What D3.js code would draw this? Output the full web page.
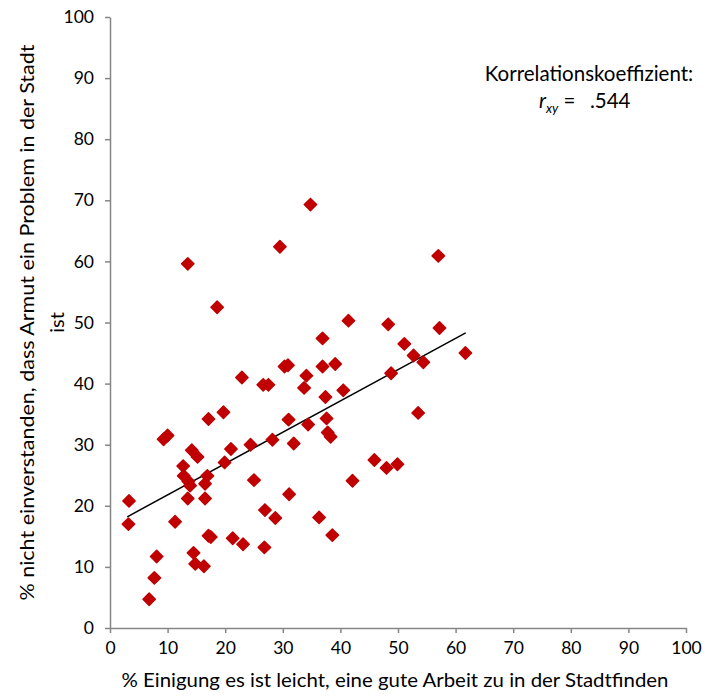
<!DOCTYPE html>
<meta charset="utf-8">
<style>
body { margin: 0; background: #fff; }
text { font-family: Lato, "Open Sans", sans-serif; fill: #000; }
.axis path, .axis line { stroke: #868686; stroke-width: 1.5; }
.axis text { font-size: 17.5px; }
.dot { fill: #c00000; stroke: #c00000; stroke-width: 1.5; stroke-linejoin: round; }
.trend { fill: none; stroke: #000; stroke-width: 1.5; }
</style>
<body></body>
<script src="https://d3js.org/d3.v7.min.js"></script>
<script>

// % agreeing it is easy to find a good job in the city
var einigung = [34.8, 29.5, 13.5, 57.0, 18.6, 41.4, 48.3, 57.2, 36.9, 51.1,
  52.7, 54.4, 61.7, 30.3, 30.9, 36.9, 39.1, 34.1, 22.9, 26.6,
  27.5, 33.7, 40.5, 48.8, 37.4, 19.7, 17.1, 31.0, 37.6, 34.4,
  37.8, 38.3, 53.5, 10.0, 9.3, 21.0, 24.4, 28.2, 31.9, 14.2,
  15.2, 12.7, 19.9, 45.9, 48.0, 49.9, 12.8, 13.6, 13.9, 16.9,
  16.5, 25.0, 42.1, 31.1, 3.3, 13.5, 16.5, 3.2, 11.3, 26.9,
  28.7, 36.3, 38.6, 17.1, 17.5, 21.3, 23.1, 26.8, 8.1, 14.5,
  14.8, 16.3, 7.7, 6.8];

// % disagreeing that poverty is a problem in the city
var nichtEinverstanden = [69.3, 62.4, 59.6, 60.9, 52.5, 50.3, 49.7, 49.1, 47.4, 46.5,
  44.6, 43.5, 45.0, 42.8, 43.0, 42.8, 43.2, 41.3, 41.0, 39.8,
  39.8, 39.3, 38.9, 41.7, 37.8, 35.3, 34.2, 34.1, 34.3, 33.3,
  32.0, 31.3, 35.2, 31.5, 30.9, 29.3, 30.0, 30.8, 30.2, 29.1,
  28.0, 26.5, 27.1, 27.5, 26.2, 26.8, 24.9, 24.0, 23.3, 24.9,
  23.6, 24.2, 24.1, 21.9, 20.8, 21.2, 21.2, 17.0, 17.4, 19.3,
  18.0, 18.1, 15.2, 15.1, 14.9, 14.7, 13.7, 13.2, 11.7, 12.3,
  10.5, 10.1, 8.2, 4.7];

// linear trendline end points
var trendX = [3.0, 61.75];
var trendY = [18.2, 48.3];

var ticks = [0, 10, 20, 30, 40, 50, 60, 70, 80, 90, 100];

var margin = {top: 17, right: 22, bottom: 68, left: 110},
    width = 708 - margin.left - margin.right,
    height = 696 - margin.top - margin.bottom;

var svg = d3.select("body").append("svg")
    .attr("width", 708)
    .attr("height", 696)
  .append("g")
    .attr("transform", "translate(" + margin.left + "," + margin.top + ")");

var x = d3.scaleLinear().domain([0, 100]).range([0, width]);
var y = d3.scaleLinear().domain([0, 100]).range([height, 0]);

svg.append("g")
    .attr("class", "axis")
    .attr("transform", "translate(0," + height + ")")
    .call(d3.axisBottom(x).tickValues(ticks).tickSize(5).tickSizeOuter(0).tickPadding(9))
    .selectAll("text").attr("dy", "0.71em");

svg.append("g")
    .attr("class", "axis")
    .call(d3.axisLeft(y).tickValues(ticks).tickSize(5).tickSizeOuter(0).tickPadding(11));

// trendline
var line = d3.line()
    .x(function(d) { return x(d[0]); })
    .y(function(d) { return y(d[1]); });

svg.append("path")
    .datum(d3.zip(trendX, trendY))
    .attr("class", "trend")
    .attr("d", line);

// diamonds
var diamond = d3.symbol().type(d3.symbolSquare).size(76);

svg.selectAll(".dot")
    .data(d3.zip(einigung, nichtEinverstanden))
  .enter().append("path")
    .attr("class", "dot")
    .attr("d", diamond)
    .attr("transform", function(d) {
      return "translate(" + x(d[0]) + "," + y(d[1]) + ") rotate(45)";
    });

// axis titles
svg.append("text")
    .attr("x", width / 2 - 3)
    .attr("y", height + 59)
    .attr("text-anchor", "middle")
    .attr("textLength", 547)
    .attr("lengthAdjust", "spacingAndGlyphs")
    .style("font-size", "20px")
    .text("% Einigung es ist leicht, eine gute Arbeit zu in der Stadtfinden");

var yTitle = svg.append("text")
    .attr("transform", "translate(-76," + (height / 2) + ") rotate(-90)")
    .attr("text-anchor", "middle")
    .style("font-size", "20px");
yTitle.append("tspan").attr("x", 0).attr("dy", 0)
    .attr("textLength", 556)
    .attr("lengthAdjust", "spacingAndGlyphs")
    .text("% nicht einverstanden, dass Armut ein Problem in der Stadt");
yTitle.append("tspan").attr("x", 0).attr("dy", 30).text("ist");

// correlation note
svg.append("text")
    .attr("x", 479)
    .attr("y", 64)
    .attr("text-anchor", "middle")
    .style("font-size", "20.5px")
    .text("Korrelationskoeffizient:");

var r = svg.append("text")
    .attr("x", 429)
    .attr("y", 91)
    .style("font-size", "20.5px");
r.append("tspan").style("font-style", "italic").text("r");
r.append("tspan").style("font-style", "italic").style("font-size", "13px").attr("dy", 5).text("xy");
r.append("tspan").attr("dy", -5).text(" =");
r.append("tspan").attr("x", 480).text(".544");

</script>
